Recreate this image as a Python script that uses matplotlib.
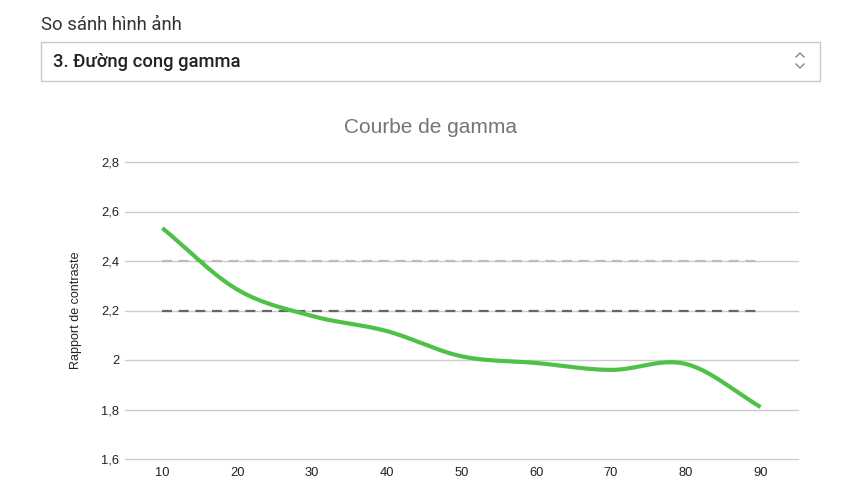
import numpy as np
import matplotlib
matplotlib.use('Agg')
import matplotlib.pyplot as plt
from matplotlib.lines import Line2D
from matplotlib.patches import Rectangle

### Data
x_vals = [10, 20, 30, 40, 50, 60, 70, 80, 90]
gamma = [2.533, 2.285, 2.178, 2.117, 2.015, 1.988, 1.96, 1.984, 1.81]
ref_light = 2.4
ref_dark = 2.2
y_ticks = [1.6, 1.8, 2.0, 2.2, 2.4, 2.6, 2.8]
y_labels = ['1,6', '1,8', '2', '2,2', '2,4', '2,6', '2,8']
x_ticks = [10, 20, 30, 40, 50, 60, 70, 80, 90]

plt.rcParams['font.family'] = ['Liberation Sans', 'DejaVu Sans']


### Smooth curve (cubic hermite, catmull-rom tangents)
def smooth(xs, ys, n=40):
    xs = np.asarray(xs, float)
    ys = np.asarray(ys, float)
    m = np.zeros_like(ys)
    m[1:-1] = (ys[2:] - ys[:-2]) / (xs[2:] - xs[:-2])
    m[0] = (ys[1] - ys[0]) / (xs[1] - xs[0])
    m[-1] = (ys[-1] - ys[-2]) / (xs[-1] - xs[-2])
    px, py = [], []
    for i in range(len(xs) - 1):
        h = xs[i + 1] - xs[i]
        t = np.linspace(0, 1, n, endpoint=False)
        h00 = 2 * t**3 - 3 * t**2 + 1
        h10 = t**3 - 2 * t**2 + t
        h01 = -2 * t**3 + 3 * t**2
        h11 = t**3 - t**2
        px.append(xs[i] + t * h)
        py.append(h00 * ys[i] + h10 * h * m[i] + h01 * ys[i + 1] + h11 * h * m[i + 1])
    px.append([xs[-1]])
    py.append([ys[-1]])
    return np.concatenate(px), np.concatenate(py)


### Figure
fig = plt.figure(figsize=(8.61, 4.91), dpi=100)

## header
fig.text(41 / 861, 1 - 25 / 491, 'So sánh hình ảnh', fontsize=13.3, color='#333333',
         family=['Roboto', 'DejaVu Sans'], va='center', ha='left')
fig.patches.append(Rectangle((41 / 861, 1 - 81 / 491), 779 / 861, 39 / 491,
                             transform=fig.transFigure, facecolor='white',
                             edgecolor='#c8c8c8', linewidth=1.0))
fig.text(53 / 861, 1 - 62 / 491, '3. Đường cong gamma', fontsize=13.2, color='#222222',
         family=['Roboto', 'DejaVu Sans'], fontweight='medium', va='center', ha='left')
# chevron icon
for ys in [(57, 53, 57), (64, 68, 64)]:
    fig.add_artist(Line2D([796 / 861, 800 / 861, 804 / 861],
                          [1 - ys[0] / 491, 1 - ys[1] / 491, 1 - ys[2] / 491],
                          transform=fig.transFigure, color='#888888', linewidth=1.0))

## chart
ax = fig.add_axes([125 / 861, 32 / 491, 673 / 861, 297 / 491])
ax.set_xlim(5, 95)
ax.set_ylim(1.6, 2.8)

for s in ax.spines.values():
    s.set_visible(False)
ax.set_yticks(y_ticks)
ax.set_yticklabels(y_labels)
ax.set_xticks(x_ticks)
ax.tick_params(length=0, labelsize=9.3, labelcolor='#222222')
ax.tick_params(axis='y', pad=4)
ax.tick_params(axis='x', pad=6)
ax.grid(axis='y', color='#cccccc', linewidth=1.0)
for gl in ax.get_ygridlines():
    gl.set_clip_on(False)
ax.set_axisbelow(True)

ax.plot([x_vals[0], x_vals[-1]], [ref_light, ref_light], color='#bdbdbd',
        linewidth=1.6, dashes=(4.5, 3))
ax.plot([x_vals[0], x_vals[-1]], [ref_dark, ref_dark], color='#666666',
        linewidth=1.6, dashes=(4.5, 3))

sx, sy = smooth(x_vals, gamma)
ax.plot(sx, sy, color='#4dc247', linewidth=3.0, solid_capstyle='butt', zorder=3)

ax.set_ylabel('Rapport de contraste', fontsize=9, color='#222222', labelpad=14)
fig.text(431 / 861, 1 - 128 / 491, 'Courbe de gamma', fontsize=15, color='#757575',
         ha='center', va='center')

plt.savefig('out.png', dpi=100)
plt.close(fig)
